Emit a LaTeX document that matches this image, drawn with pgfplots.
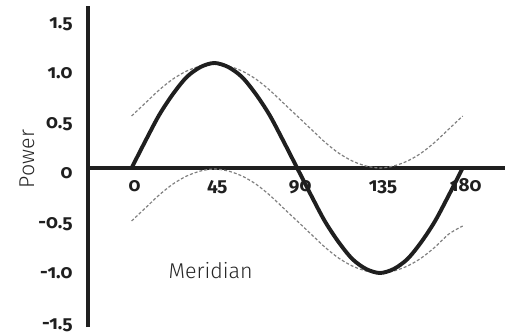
\documentclass[border=0pt]{standalone}
\usepackage{fontspec}
\setmainfont{Fira Sans}[Numbers={OldStyle,Proportional}]
\newfontfamily\lightfont{Fira Sans Light}[Numbers={OldStyle,Proportional}]
\usepackage{pgfplots}
\pgfplotsset{compat=1.18}

\begin{document}
\begin{tikzpicture}
\path[use as bounding box] (-88bp,-9bp) rectangle (417bp,327bp);
\begin{axis}[
  scale only axis, width=417bp, height=321bp,
  at={(0,0)}, anchor=south west,
  xmin=-23.7, xmax=203, ymin=-1.59, ymax=1.62,
  axis x line=middle, axis y line=left,
  axis line style={-, line width=3.8bp, black!88},
  xtick={0,45,90,135,180}, xticklabels={0,45,90,135,180},
  ytick={-1.5,-1,-0.5,0,0.5,1,1.5},
  yticklabels={-1.5,-1.0,-0.5,0,0.5,1.0,1.5},
  major tick length=0pt, tick style={draw=none},
  ticklabel style={font=\bfseries\fontsize{19}{19}\selectfont, text=black!88},
  xticklabel style={anchor=base, yshift=-24bp, xshift=3bp},
  yticklabel style={anchor=base east, xshift=-12bp, yshift=-11bp},
  clip=false,
]
% dashed envelopes
\addplot[gray, line width=1.2bp, dash pattern=on 3bp off 2bp, smooth] coordinates {
  (0,0.52) (7.5,0.65) (15,0.78) (22.5,0.89) (30,0.97) (37.5,1.02) (45,1.04)
  (52.5,1.02) (60,0.97) (67.5,0.89) (75,0.78) (82.5,0.65) (90,0.52)
  (97.5,0.39) (105,0.26) (112.5,0.15) (120,0.07) (127.5,0.02) (135,0.00)
  (142.5,0.02) (150,0.07) (157.5,0.15) (165,0.26) (172.5,0.39) (180,0.52)};
\addplot[gray, line width=1.2bp, dash pattern=on 3bp off 2bp, smooth] coordinates {
  (0,-0.53) (7.5,-0.40) (15,-0.27) (22.5,-0.16) (30,-0.08) (37.5,-0.03) (45,-0.01)
  (52.5,-0.03) (60,-0.08) (67.5,-0.16) (75,-0.27) (82.5,-0.40) (90,-0.53)
  (97.5,-0.66) (105,-0.79) (112.5,-0.90) (120,-0.98) (127.5,-1.03) (135,-1.05)
  (142.5,-1.03) (150,-0.98) (157.5,-0.90) (165,-0.79) (172.5,-0.66) (180,-0.58)};
% main curve
\addplot[black!88, line width=3.9bp, smooth] coordinates {
  (0,0) (7.5,0.27) (15,0.53) (22.5,0.74) (30,0.91) (37.5,1.01) (45,1.05)
  (52.5,1.01) (60,0.91) (67.5,0.74) (75,0.53) (82.5,0.27) (90,0)
  (97.5,-0.27) (105,-0.53) (112.5,-0.74) (120,-0.91) (127.5,-1.01) (135,-1.05)
  (142.5,-1.01) (150,-0.91) (157.5,-0.74) (165,-0.53) (172.5,-0.27) (180,0)};
\node[font=\lightfont\fontsize{21.5}{21.5}\selectfont, text=black!85, anchor=base]
  at (axis cs:43,-1.11) {Meridian};
\node[font=\lightfont\fontsize{21.5}{21.5}\selectfont, text=black!85, rotate=90, anchor=center]
  at (axis cs:-56.9,0.09) {Power};
\end{axis}
\end{tikzpicture}
\end{document}
